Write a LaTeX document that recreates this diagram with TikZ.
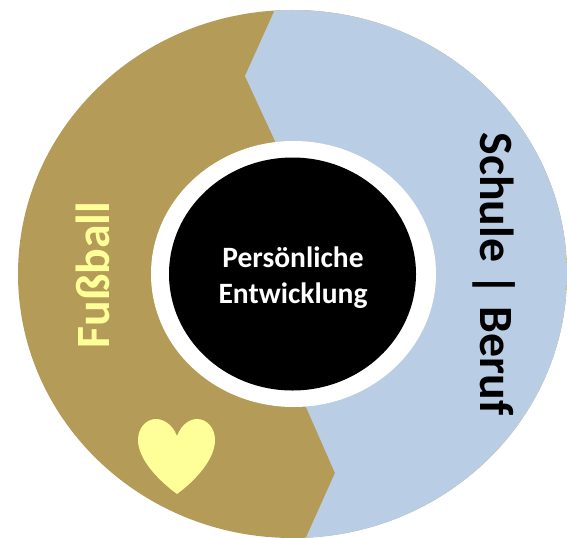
\documentclass[tikz,border=0pt]{standalone}
\usepackage{fontspec}
\setmainfont{Carlito}
\definecolor{goldring}{HTML}{B49B57}
\definecolor{bluering}{HTML}{B9CDE5}
\definecolor{heartyellow}{HTML}{FFFF99}

\begin{document}
\begin{tikzpicture}[x=0.02cm,y=-0.02cm]
    \tikzstyle{every node}=[inner sep=0pt,font=\bfseries];
    \tikzstyle{centertext}=[text=white,align=center,font=\fontsize{16.8}{20.5}\selectfont\bfseries];
    \tikzstyle{sidetext}=[font=\fontsize{27.2}{30}\selectfont\bfseries];
    \useasboundingbox (0, 0) rectangle (567, 537);

    \fill[goldring] (292.5, 274) ellipse [x radius=274.5, y radius=264];
    \begin{scope}
      \clip (292.5, 274) ellipse [x radius=274.5, y radius=264];
      \fill[bluering] (277, 5) -- (245, 76) -- (275, 141) -- (306, 407) -- (335, 473) -- (304, 542) -- (575, 542) -- (575, 5) -- cycle;
    \end{scope}
    \fill[white] (293.5, 274) ellipse [x radius=142.5, y radius=133];
    \fill[black] (292.5, 274) ellipse [x radius=123.5, y radius=116.5];

    % heart
    \fill[heartyellow] (177, 436) .. controls (172, 423) and (162, 419) .. (156, 419)
      .. controls (146, 419) and (138, 428) .. (138, 440)
      .. controls (138, 459) and (158, 480) .. (177, 494)
      .. controls (196, 480) and (215, 459) .. (215, 440)
      .. controls (215, 428) and (207, 419) .. (197, 419)
      .. controls (191, 419) and (182, 423) .. (177, 436) -- cycle;

    \node at (293, 277.5) (entwicklung) [centertext] {Persönliche\\Entwicklung};
    \node at (93, 275) (fussball) [sidetext,text=heartyellow,rotate=90] {Fußball};
    \node at (494, 274) (beruf) [sidetext,text=black,rotate=-90] {Schule | Beruf};
\end{tikzpicture}
\end{document}
